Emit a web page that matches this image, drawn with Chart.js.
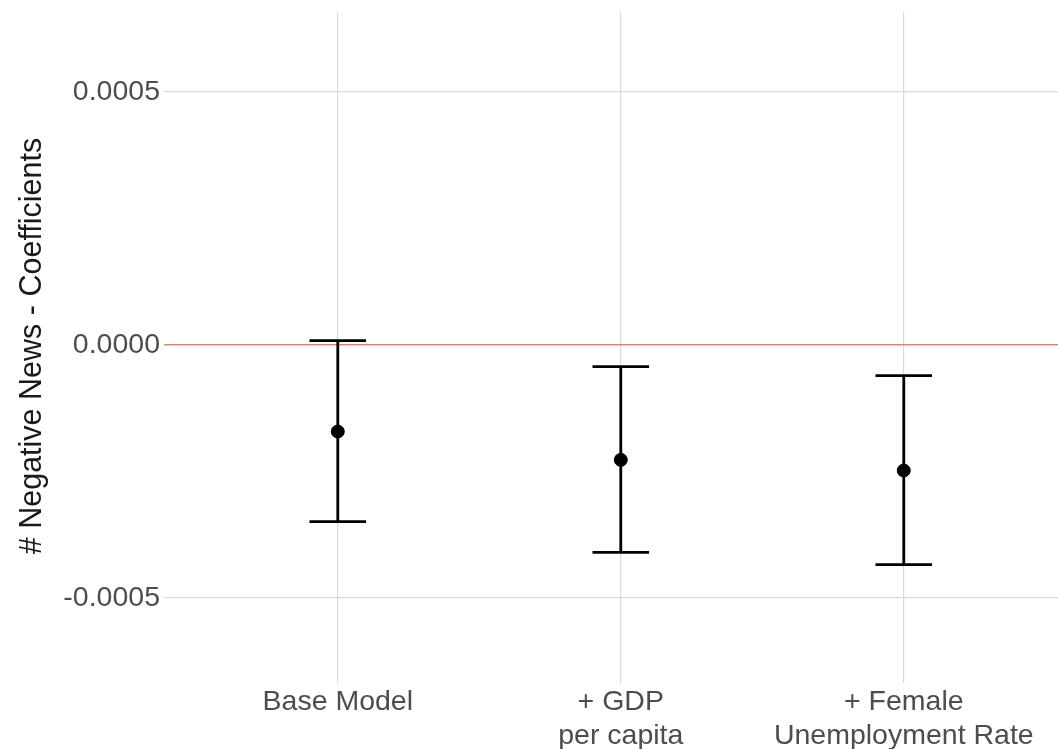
<!DOCTYPE html>
<html>
<head>
<meta charset="utf-8">
<script src="https://cdn.jsdelivr.net/npm/chart.js@4/dist/chart.umd.min.js"></script>
<style>
  body { margin: 0; background: #fff; }
  #wrap { width: 1058px; height: 749px; position: relative; }
</style>
</head>
<body>
<div id="wrap"><canvas id="coefChart"></canvas></div>
<script>
// model labels (multi-line) and coefficient estimates with CI bounds
const models = [['Base Model'], ['+ GDP', 'per capita'], ['+ Female', 'Unemployment Rate']];
const estimates = [-0.000171, -0.000227, -0.000248];
const lowerCI = [-0.000349, -0.000410, -0.000434];
const upperCI = [0.0000085, -0.0000428, -0.0000606];
const yTicks = [-0.0005, 0, 0.0005];

const textGrey = '#4d4d4d';
const gridGrey = '#d9d9d9';
const zeroRed = '#d9857d';
const capHalf = 0.1; // half width of error-bar caps, in category units

const errorBars = {
    id: 'errorBars',
    beforeDatasetsDraw(chart) {
        const { ctx, scales: { x, y } } = chart;
        ctx.save();
        ctx.strokeStyle = '#000';
        ctx.lineWidth = 2.8;
        estimates.forEach((v, i) => {
            const cx = x.getPixelForValue(i + 1);
            const x0 = x.getPixelForValue(i + 1 - capHalf);
            const x1 = x.getPixelForValue(i + 1 + capHalf);
            const yl = y.getPixelForValue(lowerCI[i]);
            const yu = y.getPixelForValue(upperCI[i]);
            ctx.beginPath();
            ctx.moveTo(cx, yl); ctx.lineTo(cx, yu);
            ctx.moveTo(x0, yl); ctx.lineTo(x1, yl);
            ctx.moveTo(x0, yu); ctx.lineTo(x1, yu);
            ctx.stroke();
        });
        ctx.restore();
    }
};

new Chart(document.getElementById('coefChart'), {
    type: 'scatter',
    data: {
        datasets: [{
            data: estimates.map((v, i) => ({ x: i + 1, y: v })),
            backgroundColor: '#000',
            borderColor: '#000',
            pointRadius: 6.5,
            pointHoverRadius: 6.5
        }]
    },
    options: {
        responsive: true,
        maintainAspectRatio: false,
        animation: false,
        layout: { autoPadding: false, padding: { top: 12, left: 0, right: 0, bottom: 0 } },
        plugins: { legend: { display: false }, tooltip: { enabled: false } },
        scales: {
            x: {
                type: 'linear',
                min: 0.4,
                max: 3.545,
                afterBuildTicks: scale => { scale.ticks = models.map((m, i) => ({ value: i + 1 })); },
                afterFit: scale => { scale.height = 69; scale.paddingLeft = 0; scale.paddingRight = 0; },
                border: { display: false },
                grid: { color: gridGrey, lineWidth: 1.2, tickLength: 3 },
                ticks: {
                    autoSkip: false,
                    maxRotation: 0,
                    padding: 2,
                    color: textGrey,
                    font: { family: '"Liberation Sans", Arial, sans-serif', size: 28.5, lineHeight: 1.2 },
                    callback: v => models[Math.round(v) - 1]
                }
            },
            y: {
                min: -0.000662,
                max: 0.000658,
                afterBuildTicks: scale => { scale.ticks = yTicks.map(v => ({ value: v })); },
                afterFit: scale => { scale.width = 168; scale.paddingTop = 0; scale.paddingBottom = 0; },
                border: { display: false },
                grid: {
                    color: c => (c.tick && c.tick.value === 0 ? zeroRed : gridGrey),
                    lineWidth: c => (c.tick && c.tick.value === 0 ? 1.5 : 1.2),
                    tickLength: 4
                },
                ticks: {
                    padding: 4,
                    color: textGrey,
                    font: { family: '"Liberation Sans", Arial, sans-serif', size: 28.5 },
                    callback: v => v.toFixed(4)
                },
                title: {
                    display: true,
                    text: '# Negative News - Coefficients',
                    color: '#1a1a1a',
                    padding: { top: 14, bottom: 0 },
                    font: { family: '"Liberation Sans", Arial, sans-serif', size: 30.5 }
                }
            }
        }
    },
    plugins: [errorBars]
});
</script>
</body>
</html>
